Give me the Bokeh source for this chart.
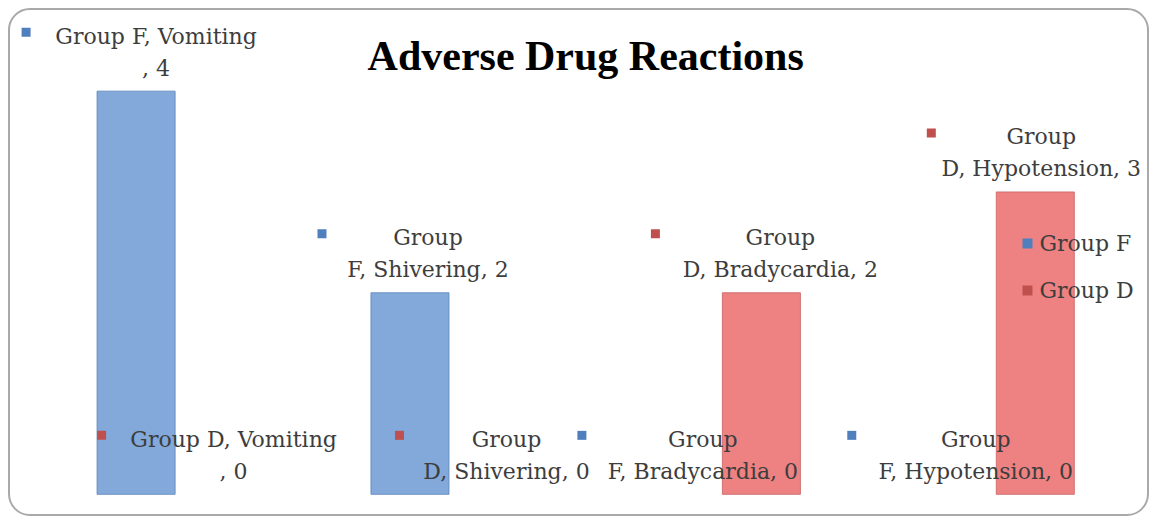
from bokeh.plotting import figure
from bokeh.models import Range1d
from bokeh.core.properties import value
from bokeh.embed import file_html
from bokeh.resources import INLINE

# ---- data ----
categories = ["Vomiting", "Shivering", "Bradycardia", "Hypotension"]
series_names = ["Group F", "Group D"]
group_f = [4, 2, 0, 0]
group_d = [0, 0, 2, 3]
title_text = "Adverse Drug Reactions"

# ---- layout / style ----
W, H = 1141, 508
PX, PY = 273.9, 100.8
X0 = -0.6
X1 = X0 + W / PX
Y1 = 4.80
Y0 = Y1 - H / PY
DODGE = 0.1415
BAR_W = 0.285
FILL = ["#82a9d9", "#ee8282"]
EDGE = ["#5b85bb", "#c96262"]
KEY = ["#4f7fbd", "#c0504d"]
LABEL_FONT = value("DejaVu Serif")
LABEL_SIZE = "22px"
LABEL_COLOR = "#3d3d3d"
MARKER_DX = [[-110, -88, -102, -106], [-112, -88, -106, -104]]
TEXT_DX = [[20, 18, 19, 18], [20, 19, 19, 6]]

p = figure(width=W, height=H, x_range=Range1d(X0, X1), y_range=Range1d(Y0, Y1),
           output_backend="svg", toolbar_location=None, min_border=0,
           x_axis_location=None, y_axis_location=None)
p.grid.visible = False
p.outline_line_color = None
p.background_fill_color = None
p.border_fill_color = None
p.styles = {"border": "2px solid #a9a9a9", "border-radius": "22px",
            "margin-left": "8px", "margin-top": "8px"}

all_vals = [group_f, group_d]
xs_all = []
for s, vals in enumerate(all_vals):
    sign = -1 if s == 0 else 1
    xs = [i + sign * DODGE for i in range(len(categories))]
    xs_all.append(xs)
    p.vbar(x=xs, top=vals, width=BAR_W, fill_color=FILL[s],
           line_color=EDGE[s], line_alpha=[0.8 if v > 0 else 0 for v in vals])

for s, (name, vals) in enumerate(zip(series_names, all_vals)):
    xs = xs_all[s]
    tx, ty, tt, mx, my = [], [], [], [], []
    for i, cat in enumerate(categories):
        v = vals[i]
        bx = xs[i]
        g = name.split()[-1]
        if i == 0:
            l1, l2 = f"{name}, {cat}", f", {v}"
        else:
            l1, l2 = "Group", f"{g}, {cat}, {v}"
        cx = bx + TEXT_DX[s][i] / PX
        tx += [cx, cx]
        ty += [v + 55 / PY, v + 23 / PY]
        tt += [l1, l2]
        mx.append(bx + MARKER_DX[s][i] / PX)
        my.append(v + 59 / PY)
    p.text(x=tx, y=ty, text=tt, text_font=LABEL_FONT, text_font_size=LABEL_SIZE,
           text_color=LABEL_COLOR, text_align="center", text_baseline="middle")
    p.scatter(x=mx, y=my, marker="square", size=9, fill_color=KEY[s], line_color=None)

# legend (manual, Excel-like)
lx = X0 + (1027 - 10) / PX
ly = [Y1 - (243 - 10) / PY, Y1 - (290 - 10) / PY]
p.scatter(x=[lx, lx], y=ly, marker="square", size=10, fill_color=KEY, line_color=None)
p.text(x=[lx + 12 / PX] * 2, y=ly, text=series_names, text_font=LABEL_FONT,
       text_font_size=LABEL_SIZE, text_color=LABEL_COLOR, text_align="left",
       text_baseline="middle")

# title
p.text(x=[(len(categories) - 1) / 2], y=[Y1 - 45 / PY], text=[title_text],
       text_font=value("Liberation Serif"), text_font_size="42px",
       text_font_style="bold", text_color="#000000", text_align="center",
       text_baseline="middle")

open("out.html", "w").write(file_html(p, INLINE))
